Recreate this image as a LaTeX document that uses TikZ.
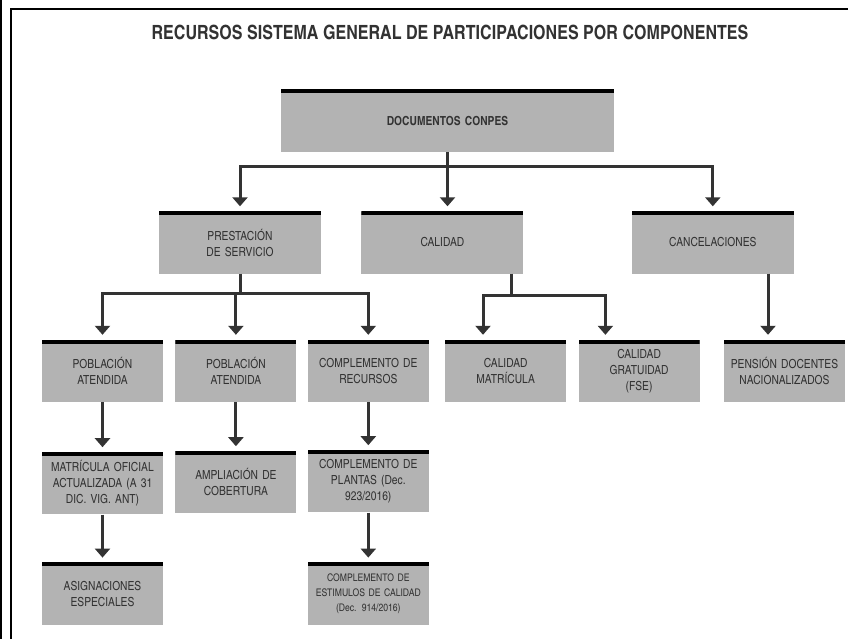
\documentclass[tikz,border=0pt]{standalone}
\usepackage{fontspec}
\setmainfont{texgyreheroscn-regular.otf}[BoldFont=texgyreheroscn-bold.otf]
\usepackage{tikz}
\usetikzlibrary{positioning,calc,arrows.meta}

\definecolor{grisfondo}{RGB}{179,179,179}
\definecolor{gristexto}{RGB}{50,50,50}
\definecolor{gristrazo}{RGB}{51,51,51}

\begin{document}
\begin{tikzpicture}[x=1pt, y=-1pt,
        caja/.style={rectangle, fill=grisfondo, text=gristexto, minimum width=121pt, minimum height=62pt,
            text width=117pt, align=center, inner sep=0pt, font=\fontsize{12.5}{16}\selectfont,
            path picture={\draw[black, line width=7pt] (path picture bounding box.north west) -- (path picture bounding box.north east);}},
        cajamedia/.style={caja, minimum width=162pt, text width=150pt},
        cajagrande/.style={caja, minimum width=333pt, text width=320pt, font=\bfseries\fontsize{12.5}{16}\selectfont},
        titulo/.style={text=gristexto, font=\bfseries\fontsize{19.6}{24}\selectfont},
        linea/.style={draw=gristrazo, line width=3pt},
        flecha/.style={linea, -{Triangle[width=15pt,length=9pt]}, shorten >=5pt}]

        \useasboundingbox (0,0) rectangle (848,639);

        % marco
        \draw[line width=2.3pt] (1.2,0) -- (1.2,639);
        \draw[line width=2.2pt] (11,639) -- (11,9) -- (848,9);

        \node[titulo] (titulo) at (450,32) {RECURSOS SISTEMA GENERAL DE PARTICIPACIONES POR COMPONENTES};

        \node[cajagrande] (conpes) at (447.5,121) {DOCUMENTOS CONPES};

        \node[cajamedia] (prestacion) at (240,242.5) {PRESTACIÓN\\DE SERVICIO};
        \node[cajamedia, right=40pt of prestacion] (calidad) {CALIDAD};
        \node[cajamedia, right=108pt of calidad] (cancelaciones) {CANCELACIONES};

        \node[caja] (poblacion1) at (102.5,371) {POBLACIÓN\\ATENDIDA};
        \node[caja, right=12pt of poblacion1] (poblacion2) {POBLACIÓN\\ATENDIDA};
        \node[caja, right=11pt of poblacion2] (complemento) {COMPLEMENTO DE\\RECURSOS};
        \node[caja, right=16pt of complemento] (calmatricula) {CALIDAD\\MATRÍCULA};
        \node[caja, right=12pt of calmatricula] (calgratuidad) {CALIDAD\\GRATUIDAD\\(FSE)};
        \node[caja, right=24pt of calgratuidad] (pension) {PENSIÓN DOCENTES\\NACIONALIZADOS};

        \node[caja, below=50pt of poblacion1] (matricula) {MATRÍCULA OFICIAL\\ACTUALIZADA (A 31\\DIC. VIG. ANT)};
        \node[caja, below=49pt of poblacion2] (ampliacion) {AMPLIACIÓN DE\\COBERTURA};
        \node[caja, below=48pt of complemento] (plantas) {COMPLEMENTO DE\\PLANTAS (Dec.\\923/2016)};

        \node[caja, below=48pt of matricula] (asignaciones) {ASIGNACIONES\\ESPECIALES};
        \node[caja, below=50pt of plantas, font=\fontsize{10.5}{15}\selectfont] (estimulos) {COMPLEMENTO DE\\ESTIMULOS DE CALIDAD\\(Dec. 914/2016)};

        % conectores
        \draw[linea] (conpes.south) -- ++(0,14) coordinate (b1);
        \draw[flecha] (b1) -| (prestacion.north);
        \draw[flecha] (b1) -- (b1 |- calidad.north);
        \draw[flecha] (b1) -| (cancelaciones.north);

        \draw[linea] (prestacion.south) -- ++(0,20) coordinate (b2);
        \draw[flecha] (b2) -| (poblacion1.north);
        \draw[flecha] (b2) -| (poblacion2.north);
        \draw[flecha] (b2) -| (complemento.north);

        \coordinate (b3) at ($(calidad.south east)+(-12,22)$);
        \draw[linea] (b3 |- calidad.south) -- (b3);
        \draw[flecha] (b3) -| ($(calmatricula.north west)+(38,0)$);
        \draw[flecha] (b3) -| ($(calgratuidad.north west)+(27,0)$);

        \coordinate (b4) at ($(cancelaciones.south east)+(-26,0)$);
        \draw[flecha] (b4) -- (b4 |- pension.north);

        \draw[flecha] (poblacion1.south) -- (matricula.north);
        \draw[flecha] (poblacion2.south) -- (ampliacion.north);
        \draw[flecha] (complemento.south) -- (plantas.north);
        \draw[flecha] (matricula.south) -- (asignaciones.north);
        \draw[flecha] (plantas.south) -- (estimulos.north);
    \end{tikzpicture}
\end{document}
